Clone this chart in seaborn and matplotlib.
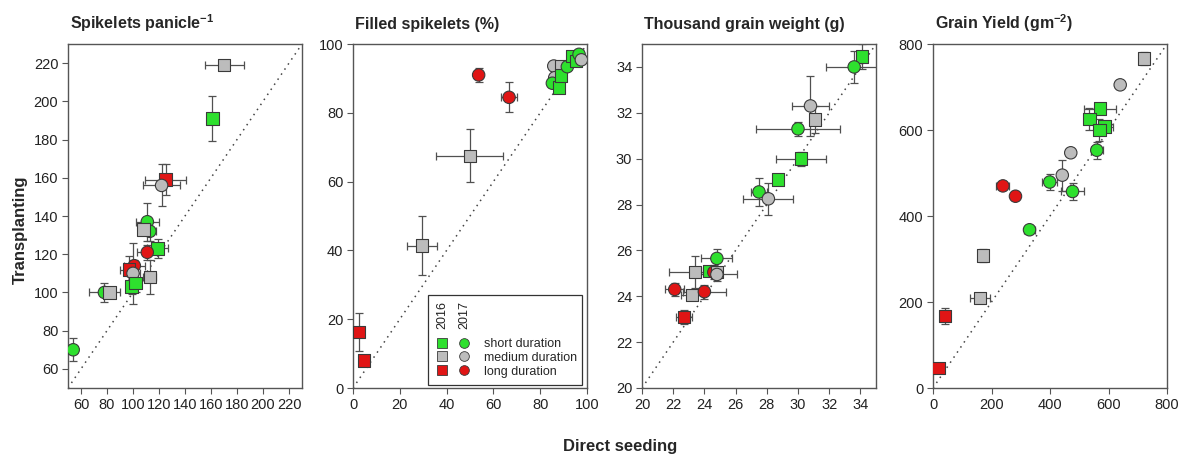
import pandas as pd
import matplotlib.pyplot as plt
import seaborn as sns
from matplotlib.lines import Line2D
from matplotlib.patches import Rectangle
from matplotlib.legend_handler import HandlerTuple

sns.set_style('white')
plt.rcParams['font.family'] = ['Liberation Sans', 'DejaVu Sans']
plt.rcParams['mathtext.fontset'] = 'custom'
plt.rcParams['mathtext.rm'] = 'Liberation Sans'
plt.rcParams['mathtext.bf'] = 'Liberation Sans:bold'

# ---------- data ----------
# duration: S = short, M = medium, L = long ; year 2016 = square, 2017 = circle
sp_dur  = ['M', 'S', 'L', 'M', 'S', 'S', 'M', 'S', 'L', 'L', 'L', 'M', 'M', 'S', 'S', 'S', 'M', 'S']
sp_year = ['2016', '2016', '2016', '2017', '2017', '2017', '2016', '2016', '2017', '2017', '2016', '2017', '2016', '2016', '2016', '2017', '2016', '2017']
sp_ds   = [170, 161, 125, 122, 111, 113, 108, 119, 111, 101, 97, 100, 113, 99, 102, 78, 82, 54]
sp_tp   = [219, 191, 159, 156, 137, 132, 133, 123, 121, 114, 112, 110, 108, 103, 105, 100, 100, 70]
sp_dse  = [15, 0, 16, 14, 9, 5, 2, 8, 8, 8, 7, 5, 5, 3, 4, 12, 3, 1]
sp_tpe  = [1, 12, 8, 11, 10, 5, 2, 5, 4, 3, 7, 16, 9, 4, 5, 5, 1, 6]

fs_dur  = ['L', 'L', 'M', 'M', 'L', 'L', 'M', 'M', 'M', 'S', 'S', 'S', 'S', 'S', 'S', 'S', 'M']
fs_year = ['2016', '2016', '2016', '2016', '2017', '2017', '2017', '2016', '2017', '2017', '2016', '2016', '2017', '2016', '2016', '2017', '2017']
fs_ds   = [2.6, 4.6, 29.5, 49.9, 53.7, 66.7, 85.8, 89.0, 86.2, 85.2, 88.0, 89.0, 91.6, 93.7, 95.2, 96.6, 97.6]
fs_tp   = [16.3, 8.0, 41.4, 67.5, 91.0, 84.5, 93.6, 93.6, 90.2, 88.6, 87.4, 90.8, 93.4, 96.5, 95.0, 97.0, 95.4]
fs_dse  = [1.5, 1.5, 6.4, 14.4, 1.5, 3.5, 1.0, 1.5, 1.0, 1.0, 1.0, 1.5, 1.0, 1.0, 1.0, 1.0, 1.0]
fs_tpe  = [5.4, 1.5, 8.5, 7.7, 2.0, 4.4, 0.5, 0.5, 0.5, 0.5, 0.5, 0.5, 0.5, 0.5, 0.5, 0.5, 0.5]

tg_dur  = ['S', 'S', 'M', 'M', 'S', 'S', 'S', 'S', 'M', 'S', 'M', 'S', 'L', 'M', 'M', 'L', 'M', 'L', 'L']
tg_year = ['2016', '2017', '2017', '2016', '2017', '2016', '2016', '2017', '2017', '2017', '2016', '2016', '2017', '2016', '2017', '2017', '2016', '2017', '2016']
tg_ds   = [34.1, 33.6, 30.8, 31.1, 30.0, 30.2, 28.7, 27.5, 28.1, 24.8, 23.4, 24.3, 24.6, 24.8, 24.8, 22.1, 23.2, 24.0, 22.7]
tg_tp   = [34.45, 34.0, 32.3, 31.7, 31.3, 30.0, 29.1, 28.55, 28.25, 25.65, 25.05, 25.1, 25.05, 25.05, 24.95, 24.3, 24.05, 24.2, 23.1]
tg_dse  = [0.3, 1.8, 1.2, 0.3, 2.7, 1.6, 0.2, 0.5, 1.6, 1.0, 1.7, 0.4, 0.3, 0.3, 1.3, 0.6, 0.7, 1.4, 0.5]
tg_tpe  = [0.55, 0.7, 1.3, 0.6, 0.3, 0.3, 0.1, 0.6, 0.7, 0.4, 0.7, 0.2, 0.3, 0.2, 0.3, 0.3, 0.2, 0.3, 0.3]

gy_dur  = ['M', 'M', 'S', 'S', 'S', 'S', 'S', 'M', 'M', 'S', 'S', 'L', 'L', 'S', 'M', 'M', 'L', 'L']
gy_year = ['2016', '2017', '2016', '2016', '2016', '2016', '2017', '2017', '2017', '2017', '2017', '2017', '2017', '2017', '2016', '2016', '2016', '2016']
gy_ds   = [722, 640, 570, 535, 587, 569, 560, 471, 442, 399, 477, 239, 282, 330, 170, 160, 42, 19]
gy_tp   = [766, 705, 650, 626, 608, 600, 553, 547, 495, 479, 457, 470, 446, 368, 308, 209, 167, 47]
gy_dse  = [5, 5, 54, 5, 30, 10, 20, 10, 10, 25, 38, 22, 5, 18, 5, 35, 15, 5]
gy_tpe  = [15, 5, 5, 25, 5, 25, 20, 5, 36, 18, 20, 5, 5, 8, 15, 5, 18, 3]

titles = ['Spikelets panicle$^{\\mathbf{-1}}$', 'Filled spikelets (%)',
          'Thousand grain weight (g)', 'Grain Yield (gm$^{\\mathbf{-2}}$)']
limits = [(50, 230), (0, 100), (20, 35), (0, 800)]
ticks = [list(range(60, 221, 20)), list(range(0, 101, 20)),
         list(range(20, 35, 2)), list(range(0, 801, 200))]

panels = [
    (sp_dur, sp_year, sp_ds, sp_tp, sp_dse, sp_tpe),
    (fs_dur, fs_year, fs_ds, fs_tp, fs_dse, fs_tpe),
    (tg_dur, tg_year, tg_ds, tg_tp, tg_dse, tg_tpe),
    (gy_dur, gy_year, gy_ds, gy_tp, gy_dse, gy_tpe),
]

colors = {'S': '#2ee02e', 'M': '#bcbcbc', 'L': '#e01515'}
markers = {'2016': 's', '2017': 'o'}
edge = '#3a3a3a'

fig = plt.figure(figsize=(11.82, 4.57), dpi=100)
lefts = [68, 353, 642, 933]
axes = [fig.add_axes([l / 1182, 69 / 457, 234 / 1182, 344 / 457]) for l in lefts]

for ax, (dur, year, ds, tp, dse, tpe), title, lim, tk in zip(axes, panels, titles, limits, ticks):
    df = pd.DataFrame({'dur': dur, 'year': year, 'ds': ds, 'tp': tp, 'dse': dse, 'tpe': tpe})
    ax.plot(lim, lim, ls=(0, (1, 3)), color='#444444', lw=1.1, zorder=1)
    ax.errorbar(df['ds'], df['tp'], xerr=df['dse'], yerr=df['tpe'], fmt='none',
                ecolor='#505050', elinewidth=0.9, capsize=3, capthick=0.9, zorder=2)
    sns.scatterplot(data=df, x='ds', y='tp', hue='dur', style='year', palette=colors,
                    markers=markers, s=80, edgecolor=edge, linewidth=0.8,
                    legend=False, ax=ax, zorder=3)
    ax.set_xlim(lim)
    ax.set_ylim(lim)
    ax.set_xticks(tk)
    ax.set_yticks(tk)
    ax.set_xlabel('')
    ax.set_ylabel('')
    ax.tick_params(axis='both', direction='out', length=4, width=0.8, color='#555555',
                   labelsize=10.5, labelcolor='#222222', bottom=True, left=True, pad=3)
    for sp in ax.spines.values():
        sp.set_color('#555555')
        sp.set_linewidth(1.0)
    ax.set_title(title, loc='left', fontweight='bold', fontsize=11.5, pad=11, x=0.01)

# ---------- legend in the second panel ----------
ax = axes[1]
ax.add_patch(Rectangle((0.32, 0.009), 0.659, 0.261, transform=ax.transAxes,
                       fill=False, ec='#333333', lw=0.9, zorder=5))
labels = ['short duration', 'medium duration', 'long duration']
handles = []
for d in ['S', 'M', 'L']:
    sq = Line2D([], [], marker='s', ls='none', ms=6.5, mfc=colors[d], mec=edge, mew=0.6)
    ci = Line2D([], [], marker='o', ls='none', ms=7, mfc=colors[d], mec=edge, mew=0.6)
    handles.append((sq, ci))
ax.legend(handles, labels, handler_map={tuple: HandlerTuple(ndivide=None, pad=0.52)},
          loc='lower left', bbox_to_anchor=(0.347, 0.03), frameon=False, fontsize=9,
          handlelength=3.0, handletextpad=1.0, labelspacing=0.15, borderpad=0,
          borderaxespad=0)
ax.text(0.380, 0.212, '2016', transform=ax.transAxes, rotation=90, ha='center',
        va='center', fontsize=9, color='#222222')
ax.text(0.474, 0.212, '2017', transform=ax.transAxes, rotation=90, ha='center',
        va='center', fontsize=9, color='#222222')

fig.text(20 / 1182, 1 - 230 / 457, 'Transplanting', rotation=90, ha='center', va='center',
         fontsize=12, fontweight='bold')
fig.text(620 / 1182, 1 - 446 / 457, 'Direct seeding', ha='center', va='center',
         fontsize=12, fontweight='bold')

plt.savefig('out.png', dpi=100)
